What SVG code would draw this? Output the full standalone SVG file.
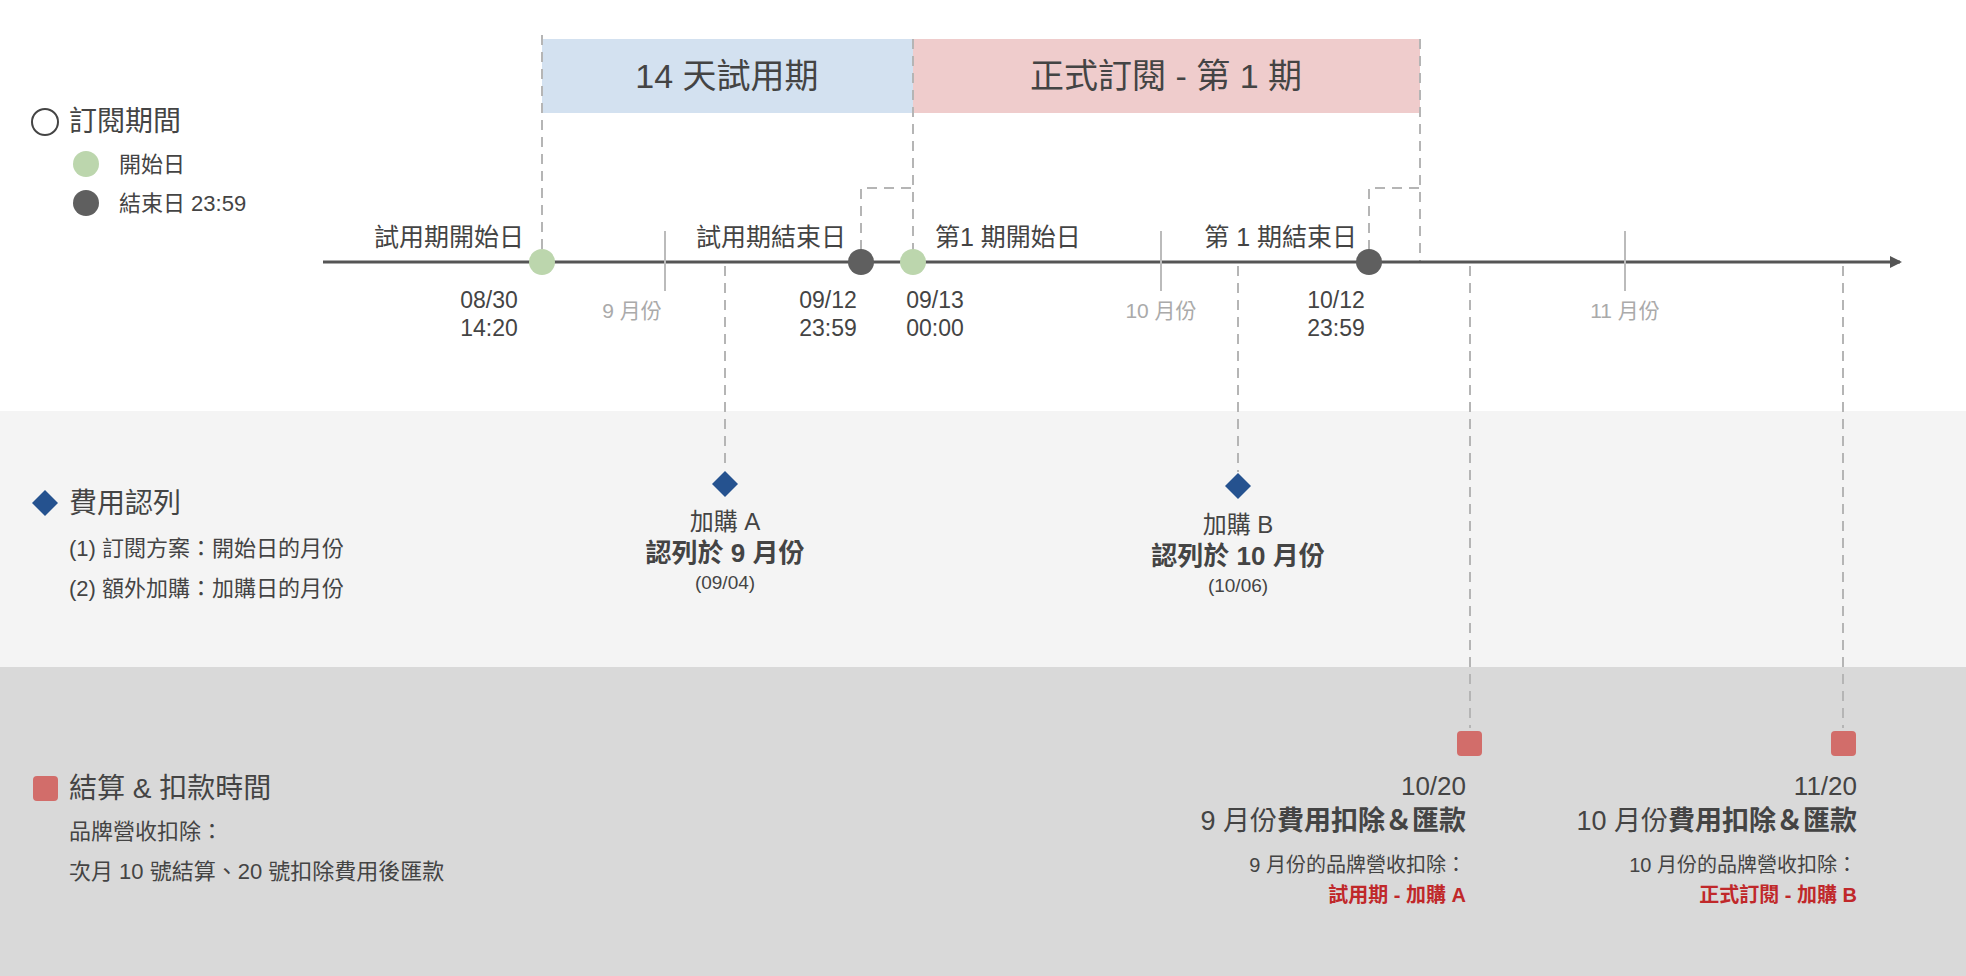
<svg xmlns="http://www.w3.org/2000/svg" width="1966" height="976" viewBox="0 0 1966 976">
<defs>
<style>
text{font-family:"Liberation Sans","Noto Sans CJK TC",sans-serif;fill:#444}
.lbl{font-size:25px}
.dt{font-size:23px;text-anchor:middle}
.mo{font-size:21px;fill:#aaa;text-anchor:middle}
.dash{stroke:#b5b5b5;stroke-width:2;stroke-dasharray:10,7;fill:none}
.tick{stroke:#bbb;stroke-width:2}
.b{font-weight:bold}
.red{fill:#c0282a;font-weight:bold}
</style>
<marker id="arr" markerWidth="12" markerHeight="12" refX="10" refY="6" orient="auto" markerUnits="userSpaceOnUse"><path d="M0,0 L12,6 L0,12 z" fill="#555"/></marker>
</defs>
<rect width="1966" height="976" fill="#fff"/>
<rect x="0" y="411" width="1966" height="256" fill="#f4f4f4"/>
<rect x="0" y="667" width="1966" height="309" fill="#d9d9d9"/>

<g id="periods">
<rect x="542" y="39" width="371" height="74" fill="#d3e1f0"/>
<text x="727" y="88" font-size="34" text-anchor="middle">14 天試用期</text>
<rect x="913" y="39" width="507" height="74" fill="#efcccc"/>
<text x="1166" y="88" font-size="34" text-anchor="middle">正式訂閱 - 第 1 期</text>
</g>

<g id="connectors">
<path class="dash" d="M542,35 V250"/>
<path class="dash" d="M913,39 V250"/>
<path class="dash" d="M861,250 V188 H913"/>
<path class="dash" d="M1420,39 V262"/>
<path class="dash" d="M1369,250 V188 H1420"/>
<path class="dash" d="M725,266 V470"/>
<path class="dash" d="M1238,266 V472"/>
<path class="dash" d="M1470,266 V728"/>
<path class="dash" d="M1843,266 V728"/>
<line x1="323" y1="262" x2="1900" y2="262" stroke="#555" stroke-width="3" marker-end="url(#arr)"/>
<line class="tick" x1="665" y1="231" x2="665" y2="291"/>
<line class="tick" x1="1161" y1="231" x2="1161" y2="291"/>
<line class="tick" x1="1625" y1="231" x2="1625" y2="291"/>
</g>

<g id="timeline-labels">
<text class="mo" x="632" y="318">9 月份</text>
<text class="mo" x="1161" y="318">10 月份</text>
<text class="mo" x="1625" y="318">11 月份</text>
<text class="lbl" x="524" y="246" text-anchor="end">試用期開始日</text>
<text class="lbl" x="846" y="246" text-anchor="end">試用期結束日</text>
<text class="lbl" x="935" y="246">第1 期開始日</text>
<text class="lbl" x="1357" y="246" text-anchor="end">第 1 期結束日</text>
<text class="dt" x="489" y="308">08/30</text><text class="dt" x="489" y="336">14:20</text>
<text class="dt" x="828" y="308">09/12</text><text class="dt" x="828" y="336">23:59</text>
<text class="dt" x="935" y="308" text-anchor="start">09/13</text><text class="dt" x="935" y="336" text-anchor="start">00:00</text>
<text class="dt" x="1336" y="308">10/12</text><text class="dt" x="1336" y="336">23:59</text>
</g>

<g id="dots">
<circle cx="542" cy="262" r="13" fill="#bcd6ad"/>
<circle cx="861" cy="262" r="13" fill="#5f5f5f"/>
<circle cx="913" cy="262" r="13" fill="#bcd6ad"/>
<circle cx="1369" cy="262" r="13" fill="#5f5f5f"/>
</g>

<g id="legend-period">
<circle cx="45" cy="122" r="13" fill="none" stroke="#444" stroke-width="2"/>
<text x="69" y="131" font-size="28">訂閱期間</text>
<circle cx="86" cy="164" r="13" fill="#bcd6ad"/>
<text x="119" y="172" font-size="22">開始日</text>
<circle cx="86" cy="203" r="13" fill="#5f5f5f"/>
<text x="119" y="211" font-size="22">結束日 23:59</text>
</g>

<g id="legend-cost">
<path d="M45,490 L58,503 L45,516 L32,503 z" fill="#25528f"/>
<text x="69" y="513" font-size="28">費用認列</text>
<text x="69" y="556" font-size="22">(1) 訂閱方案：開始日的月份</text>
<text x="69" y="596" font-size="22">(2) 額外加購：加購日的月份</text>
</g>

<g id="addon-a">
<path d="M725,471 L738,484 L725,497 L712,484 z" fill="#25528f"/>
<text x="725" y="530" font-size="24" text-anchor="middle">加購 A</text>
<text x="725" y="562" font-size="26" class="b" text-anchor="middle">認列於 9 月份</text>
<text x="725" y="589" font-size="19" text-anchor="middle">(09/04)</text>
</g>
<g id="addon-b">
<path d="M1238,473 L1251,486 L1238,499 L1225,486 z" fill="#25528f"/>
<text x="1238" y="533" font-size="24" text-anchor="middle">加購 B</text>
<text x="1238" y="565" font-size="26" class="b" text-anchor="middle">認列於 10 月份</text>
<text x="1238" y="592" font-size="19" text-anchor="middle">(10/06)</text>
</g>

<g id="legend-settle">
<rect x="33" y="776" width="25" height="25" rx="4" fill="#d26d6a"/>
<text x="69" y="798" font-size="28">結算 &amp; 扣款時間</text>
<text x="69" y="839" font-size="22">品牌營收扣除：</text>
<text x="69" y="879" font-size="22">次月 10 號結算、20 號扣除費用後匯款</text>
</g>

<g id="settle-1020">
<rect x="1457" y="731" width="25" height="25" rx="4" fill="#d26d6a"/>
<text x="1466" y="795" font-size="26" text-anchor="end">10/20</text>
<text x="1466" y="830" font-size="27" text-anchor="end">9 月份<tspan class="b">費用扣除＆匯款</tspan></text>
<text x="1466" y="872" font-size="20" text-anchor="end">9 月份的品牌營收扣除：</text>
<text x="1466" y="902" font-size="20" class="red" text-anchor="end">試用期 - 加購 A</text>
</g>
<g id="settle-1120">
<rect x="1831" y="731" width="25" height="25" rx="4" fill="#d26d6a"/>
<text x="1857" y="795" font-size="26" text-anchor="end">11/20</text>
<text x="1857" y="830" font-size="27" text-anchor="end">10 月份<tspan class="b">費用扣除＆匯款</tspan></text>
<text x="1857" y="872" font-size="20" text-anchor="end">10 月份的品牌營收扣除：</text>
<text x="1857" y="902" font-size="20" class="red" text-anchor="end">正式訂閱 - 加購 B</text>
</g>
</svg>
